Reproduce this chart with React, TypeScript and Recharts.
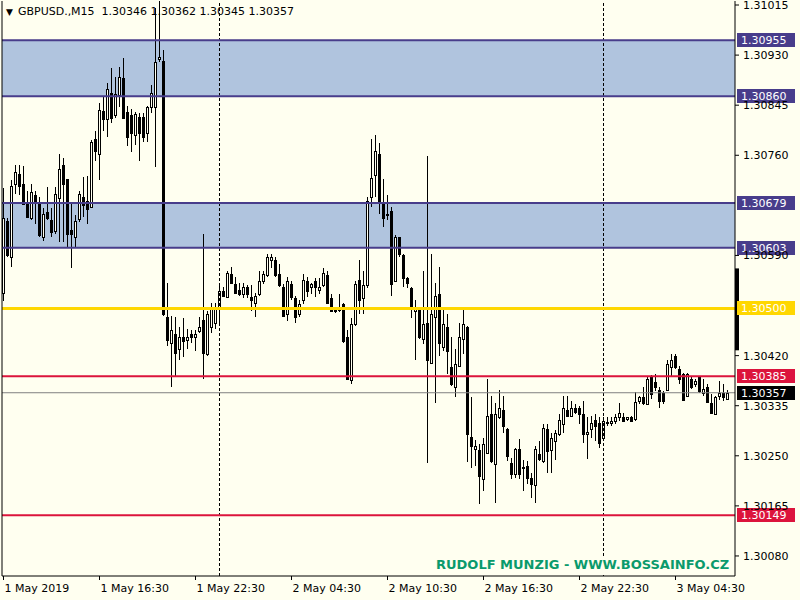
import React from "react";
import { ComposedChart, Bar, XAxis, YAxis, ReferenceLine, ReferenceArea } from "recharts";

// GBPUSD M15, 1 May 2019 10:30 .. 3 May 2019 07:45, one value per bar
const opens = [
  1.30527, 1.30648, 1.30587, 1.30712, 1.30729, 1.30712, 1.30678, 1.30653, 1.30692, 1.30678,
  1.30621, 1.30663, 1.3065, 1.30631, 1.30687, 1.30743, 1.30719, 1.30633, 1.30622, 1.30651,
  1.30689, 1.30682, 1.30672, 1.30787, 1.30762, 1.30835, 1.30821, 1.30865, 1.30828, 1.30862,
  1.30891, 1.30833, 1.30828, 1.30794, 1.30825, 1.30825, 1.30797, 1.30842, 1.30842, 1.30923,
  1.3092, 1.30486, 1.30442, 1.30457, 1.30432, 1.30452, 1.30446, 1.30457, 1.30451, 1.30461,
  1.30481, 1.30422, 1.30468, 1.30476, 1.30502, 1.3053, 1.30519, 1.30559, 1.30542, 1.30532,
  1.30525, 1.30536, 1.30519, 1.3051, 1.30525, 1.30546, 1.30556, 1.30583, 1.30583, 1.30559,
  1.30536, 1.30491, 1.30542, 1.30517, 1.30491, 1.30514, 1.30547, 1.30536, 1.30546, 1.30532,
  1.30539, 1.30556, 1.30517, 1.30498, 1.30498, 1.30507, 1.30452, 1.30379, 1.30473, 1.30549,
  1.30517, 1.30539, 1.30689, 1.30726, 1.30762, 1.3068, 1.30658, 1.30666, 1.30547, 1.30621,
  1.3059, 1.30551, 1.30534, 1.30496, 1.30498, 1.30449, 1.30476, 1.30408, 1.30486, 1.30525,
  1.30434, 1.30468, 1.30401, 1.30367, 1.30403, 1.30449, 1.30469, 1.30282, 1.30262, 1.3026,
  1.30211, 1.30255, 1.30321, 1.30236, 1.30316, 1.30328, 1.30296, 1.30238, 1.30219, 1.30262,
  1.30231, 1.30233, 1.30213, 1.30201, 1.30253, 1.30241, 1.30296, 1.3026, 1.30275, 1.30287,
  1.30304, 1.30328, 1.30318, 1.30331, 1.30331, 1.30321, 1.30287, 1.30296, 1.30311, 1.30306,
  1.30281, 1.30306, 1.30306, 1.30309, 1.30315, 1.30316, 1.30313, 1.30315, 1.30313, 1.30343,
  1.30349, 1.30338, 1.30386, 1.30376, 1.30362, 1.30357, 1.30362, 1.304, 1.3042, 1.30398,
  1.30389, 1.30352, 1.30381, 1.30371, 1.30383, 1.30357, 1.30366, 1.3034, 1.30321, 1.30352,
  1.30357, 1.30346,
];
const highs = [
  1.30704, 1.30653, 1.30718, 1.30743, 1.30743, 1.30741, 1.307, 1.30712, 1.307, 1.30689,
  1.3067, 1.30706, 1.3067, 1.30706, 1.30763, 1.30755, 1.3072, 1.3068, 1.30658, 1.307,
  1.30723, 1.30724, 1.30786, 1.30802, 1.30848, 1.30859, 1.30882, 1.30908, 1.30893, 1.3091,
  1.30925, 1.30843, 1.30838, 1.30833, 1.30831, 1.30831, 1.30843, 1.30879, 1.3101, 1.31023,
  1.30939, 1.30544, 1.30488, 1.30485, 1.30468, 1.30483, 1.30466, 1.30463, 1.30464, 1.30485,
  1.30627, 1.30496, 1.3051, 1.3051, 1.30539, 1.30536, 1.30564, 1.3057, 1.30553, 1.30544,
  1.30544, 1.30539, 1.30539, 1.30527, 1.30564, 1.30564, 1.30593, 1.30593, 1.30587, 1.30576,
  1.30542, 1.30554, 1.30546, 1.30522, 1.30514, 1.30558, 1.30553, 1.30544, 1.30551, 1.30551,
  1.30568, 1.30564, 1.30525, 1.30502, 1.30525, 1.3051, 1.30463, 1.30483, 1.30546, 1.30583,
  1.30564, 1.3069, 1.30787, 1.30794, 1.3078, 1.30719, 1.30692, 1.30673, 1.30624, 1.30622,
  1.30593, 1.30554, 1.30537, 1.30514, 1.305, 1.30563, 1.30758, 1.30593, 1.30544, 1.3057,
  1.30498, 1.30491, 1.30451, 1.30432, 1.30476, 1.30498, 1.3047, 1.3035, 1.30277, 1.3027,
  1.30281, 1.30381, 1.30352, 1.3034, 1.30362, 1.30352, 1.30298, 1.30247, 1.30264, 1.30279,
  1.30243, 1.30241, 1.30221, 1.30267, 1.30275, 1.30304, 1.30304, 1.30289, 1.30294, 1.30321,
  1.30352, 1.30352, 1.30343, 1.30338, 1.30335, 1.30343, 1.30315, 1.30318, 1.30321, 1.30315,
  1.30315, 1.30315, 1.30315, 1.30321, 1.3034, 1.30323, 1.30316, 1.30318, 1.30359, 1.30352,
  1.30366, 1.30383, 1.30387, 1.30389, 1.30366, 1.3036, 1.30412, 1.30422, 1.30423, 1.30403,
  1.30391, 1.3039, 1.30383, 1.30381, 1.30386, 1.30381, 1.30372, 1.30355, 1.30352, 1.30377,
  1.30372, 1.30362,
];
const lows = [
  1.30513, 1.30587, 1.3057, 1.30695, 1.30692, 1.30677, 1.30653, 1.3065, 1.30644, 1.30622,
  1.30615, 1.3065, 1.30621, 1.30627, 1.30612, 1.30612, 1.30604, 1.30568, 1.30602, 1.30646,
  1.30655, 1.30644, 1.3067, 1.30751, 1.30718, 1.30802, 1.30791, 1.30814, 1.30823, 1.30842,
  1.30822, 1.30775, 1.30765, 1.30777, 1.30751, 1.30782, 1.30782, 1.30831, 1.3074, 1.30918,
  1.30488, 1.30437, 1.30366, 1.30386, 1.30412, 1.30417, 1.30432, 1.30442, 1.30427, 1.30459,
  1.30381, 1.3042, 1.30459, 1.30466, 1.30476, 1.30519, 1.30517, 1.30542, 1.30525, 1.30522,
  1.30517, 1.30517, 1.30496, 1.30485, 1.30522, 1.30542, 1.30553, 1.30568, 1.30553, 1.30536,
  1.30487, 1.30479, 1.30514, 1.30476, 1.30485, 1.30507, 1.3052, 1.30525, 1.3052, 1.30525,
  1.30537, 1.30508, 1.30494, 1.30493, 1.30494, 1.30442, 1.30379, 1.30372, 1.30471, 1.30491,
  1.30491, 1.30534, 1.30672, 1.30689, 1.30661, 1.30638, 1.3065, 1.30522, 1.30546, 1.30588,
  1.30536, 1.30534, 1.30483, 1.30412, 1.30449, 1.3044, 1.30238, 1.30406, 1.3034, 1.3042,
  1.30428, 1.30389, 1.30369, 1.30349, 1.304, 1.30422, 1.3024, 1.3023, 1.30233, 1.30168,
  1.3019, 1.30253, 1.30238, 1.3017, 1.30313, 1.30289, 1.30241, 1.30211, 1.30213, 1.30211,
  1.3019, 1.30202, 1.30179, 1.3017, 1.30241, 1.30238, 1.30221, 1.30221, 1.30243, 1.30284,
  1.30289, 1.30315, 1.30315, 1.30321, 1.30304, 1.30272, 1.30245, 1.30281, 1.30275, 1.30264,
  1.30279, 1.30301, 1.30301, 1.30304, 1.30309, 1.30308, 1.30309, 1.30308, 1.30309, 1.30338,
  1.30337, 1.30337, 1.30347, 1.3036, 1.30331, 1.30338, 1.3036, 1.30386, 1.30398, 1.30372,
  1.30344, 1.30349, 1.30364, 1.30366, 1.30357, 1.30352, 1.3034, 1.30322, 1.3032, 1.30345,
  1.30343, 1.30345,
];
const closes = [
  1.30653, 1.3059, 1.30707, 1.30731, 1.30707, 1.30678, 1.30655, 1.30697, 1.3068, 1.30624,
  1.30661, 1.30653, 1.30629, 1.30694, 1.30736, 1.30712, 1.30627, 1.30627, 1.30648, 1.30694,
  1.30675, 1.30668, 1.30782, 1.30767, 1.30836, 1.30821, 1.30872, 1.30823, 1.30864, 1.30893,
  1.30823, 1.30791, 1.30797, 1.3083, 1.30797, 1.30791, 1.30842, 1.30865, 1.30918, 1.30927,
  1.30491, 1.30447, 1.30463, 1.30425, 1.30452, 1.30444, 1.30452, 1.30451, 1.30457, 1.30469,
  1.30425, 1.3049, 1.30502, 1.30502, 1.3053, 1.30522, 1.30561, 1.30544, 1.30527, 1.30525,
  1.30537, 1.30524, 1.30515, 1.30522, 1.30547, 1.30558, 1.30587, 1.30587, 1.30556, 1.30539,
  1.30488, 1.30546, 1.3052, 1.30485, 1.30507, 1.30549, 1.30529, 1.30542, 1.30537, 1.30537,
  1.30561, 1.3051, 1.30495, 1.30495, 1.30502, 1.30444, 1.30381, 1.30473, 1.30541, 1.30514,
  1.30539, 1.30683, 1.30721, 1.30768, 1.3068, 1.30653, 1.30661, 1.30541, 1.30622, 1.30592,
  1.30551, 1.30544, 1.305, 1.30503, 1.30451, 1.30473, 1.30413, 1.30491, 1.30522, 1.30442,
  1.30473, 1.30428, 1.30371, 1.30406, 1.30452, 1.30473, 1.30287, 1.30267, 1.30267, 1.30216,
  1.3027, 1.30318, 1.30241, 1.30321, 1.30331, 1.30301, 1.3025, 1.30219, 1.30262, 1.30219,
  1.3023, 1.30213, 1.30202, 1.30262, 1.30245, 1.30298, 1.30258, 1.30281, 1.30289, 1.30311,
  1.30331, 1.30318, 1.30331, 1.30325, 1.30321, 1.30287, 1.30291, 1.30306, 1.30301, 1.30272,
  1.30309, 1.30308, 1.30309, 1.30316, 1.30323, 1.30309, 1.30315, 1.30309, 1.30342, 1.30349,
  1.3034, 1.30381, 1.30355, 1.30366, 1.30343, 1.30343, 1.30406, 1.30412, 1.304, 1.30381,
  1.30345, 1.30389, 1.30366, 1.30377, 1.3036, 1.30364, 1.30342, 1.30323, 1.30349, 1.30357,
  1.30349, 1.30357,
];

const timeTicks = [0, 24, 48, 72, 96, 120, 144, 168];
const timeLabels = [
  "1 May 2019", "1 May 16:30", "1 May 22:30", "2 May 04:30",
  "2 May 10:30", "2 May 16:30", "2 May 22:30", "3 May 04:30",
];
const priceTicks = [1.31015, 1.3093, 1.30845, 1.3076, 1.3059, 1.3042, 1.30335, 1.3025, 1.30165, 1.3008];
const zones = [
  [1.3086, 1.30955],
  [1.30603, 1.30679],
];
const daySeparators = [54, 150];
const goldLevel = 1.305;
const redLevels = [1.30385, 1.30149];
const bidLevel = 1.30357;
const rangeMarker = [1.30429, 1.30568];

const BG = "#FFFFF0";
const ZONE_FILL = "#B0C4DE";
const ZONE_LINE = "#483D8B";
const GOLD = "#FFD700";
const RED = "#DC143C";
const FONT = "DejaVu Sans, Verdana, sans-serif";

const X_DOMAIN: [number, number] = [-0.375, 182.875];
const Y_DOMAIN: [number, number] = [1.30046, 1.310218];

const candles = opens.map((o, i) => ({
  idx: i,
  open: o,
  high: highs[i],
  low: lows[i],
  close: closes[i],
}));

function Candle(props: any) {
  const { x, y, width, height } = props;
  const d = props.payload ?? props;
  if (d == null || d.high == null) return null;
  const top = Math.min(y, y + height);
  const h = Math.abs(height);
  const k = d.high > d.low ? h / (d.high - d.low) : 0;
  const py = (p: number) => top + (d.high - p) * k;
  const c = Math.floor(x + width / 2);
  const up = d.close >= d.open;
  const bTop = Math.round(py(Math.max(d.open, d.close)));
  const bBot = Math.round(py(Math.min(d.open, d.close)));
  const bh = Math.max(bBot - bTop, 1);
  return (
    <g>
      <line x1={c + 0.5} x2={c + 0.5} y1={Math.round(top)} y2={Math.round(top + h)} stroke="#000" strokeWidth={1} />
      {up ? (
        <rect x={c - 0.5} y={bTop + 0.5} width={2} height={bh} fill={BG} stroke="#000" strokeWidth={1} />
      ) : (
        <rect x={c - 1} y={bTop} width={3} height={bh + 1} fill="#000" />
      )}
    </g>
  );
}

function PriceTag({ viewBox, text, bg }: any) {
  if (!viewBox) return null;
  const left = viewBox.x + viewBox.width + 2;
  const cy = viewBox.y;
  return (
    <g>
      <rect x={left} y={Math.round(cy) - 7} width={58} height={14} fill={bg} />
      <text x={left + 4} y={cy} dy="0.36em" fill="#fff" fontSize={11} fontFamily={FONT}>
        {text}
      </text>
    </g>
  );
}

function TimeTick({ x, y, payload }: any) {
  const i = timeTicks.indexOf(payload.value);
  return (
    <text x={x + 1} y={y} dy="0.9em" fontSize={11} fontFamily={FONT} fill="#000" textAnchor="start">
      {timeLabels[i]}
    </text>
  );
}

export default function App() {
  return (
    <div style={{ position: "absolute", left: 0, top: 0, width: 800, height: 600, background: BG, overflow: "hidden" }}>
      <ComposedChart
        width={800}
        height={600}
        data={candles}
        margin={{ top: 1, right: 0, bottom: 0, left: 2 }}
      >
        <XAxis
          dataKey="idx"
          type="number"
          domain={X_DOMAIN}
          allowDataOverflow
          ticks={timeTicks}
          interval={0}
          height={24}
          tickSize={4}
          tickMargin={2}
          axisLine={{ stroke: "#000" }}
          tickLine={{ stroke: "#000" }}
          tick={<TimeTick />}
        />
        <YAxis
          orientation="right"
          type="number"
          domain={Y_DOMAIN}
          allowDataOverflow
          ticks={priceTicks}
          interval={0}
          width={65}
          tickSize={4}
          tickMargin={4}
          axisLine={{ stroke: "#000" }}
          tickLine={{ stroke: "#000" }}
          tick={{ fill: "#000", fontSize: 11, fontFamily: FONT }}
          tickFormatter={(v: number) => v.toFixed(5)}
        />

        {zones.map(([lo, hi]) => (
          <ReferenceArea key={`z${lo}`} y1={lo} y2={hi} fill={ZONE_FILL} fillOpacity={1} stroke="none" />
        ))}
        {daySeparators.map((s) => (
          <ReferenceLine key={`s${s}`} x={s} stroke="#000" strokeDasharray="3 2" />
        ))}
        <ReferenceLine y={bidLevel} stroke="#808080" label={<PriceTag text={bidLevel.toFixed(5)} bg="#000" />} />
        {redLevels.map((v) => (
          <ReferenceLine key={`r${v}`} y={v} stroke={RED} strokeWidth={2} label={<PriceTag text={v.toFixed(5)} bg={RED} />} />
        ))}
        <ReferenceLine y={goldLevel} stroke={GOLD} strokeWidth={3} label={<PriceTag text={goldLevel.toFixed(5)} bg={GOLD} />} />
        {zones.flat().map((v) => (
          <ReferenceLine key={`zl${v}`} y={v} stroke={ZONE_LINE} strokeWidth={2} label={<PriceTag text={v.toFixed(5)} bg={ZONE_LINE} />} />
        ))}

        <Bar
          dataKey={(d: any) => [d.low, d.high]}
          barSize={3}
          shape={(p: any) => <Candle {...p} />}
          isAnimationActive={false}
        />

        <ReferenceArea
          x1={X_DOMAIN[1]}
          x2={X_DOMAIN[1] + 1}
          y1={rangeMarker[0]}
          y2={rangeMarker[1]}
          fill="#000"
          fillOpacity={1}
          ifOverflow="visible"
        />
        <ReferenceLine x={X_DOMAIN[0]} stroke="#000" ifOverflow="visible" />
      </ComposedChart>

      <div
        style={{
          position: "absolute",
          left: 6,
          top: 5,
          fontFamily: FONT,
          fontSize: 11,
          lineHeight: "14px",
          color: "#000",
          whiteSpace: "pre",
        }}
      >
        <span style={{ fontSize: 9, marginRight: 5 }}>▼</span>
        {"GBPUSD.,M15  1.30346 1.30362 1.30345 1.30357"}
      </div>
      <div
        style={{
          position: "absolute",
          left: 432,
          top: 557,
          width: 302,
          height: 18,
          background: BG,
          paddingLeft: 4,
          boxSizing: "border-box",
          fontFamily: FONT,
          fontWeight: "bold",
          fontSize: 13,
          lineHeight: "15px",
          color: "#0A9A6C",
          whiteSpace: "pre",
        }}
      >
        RUDOLF MUNZIG - WWW.BOSSAINFO.CZ
      </div>
    </div>
  );
}
